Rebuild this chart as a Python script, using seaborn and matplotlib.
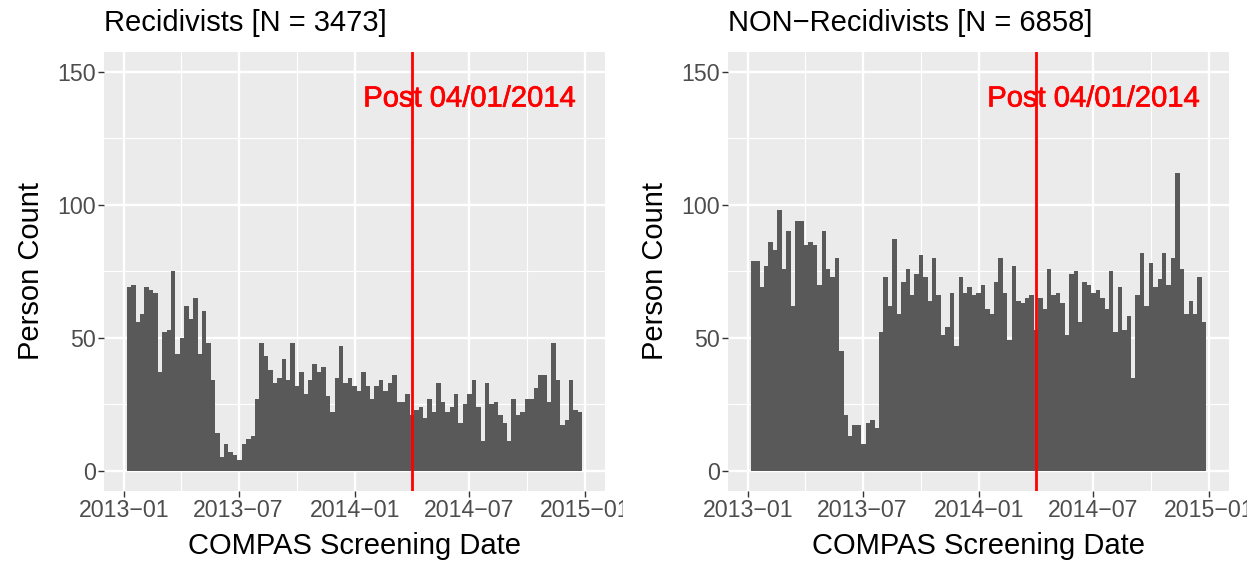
import numpy as np
import pandas as pd
import matplotlib
matplotlib.use("Agg")
import matplotlib.pyplot as plt
import matplotlib.dates as mdates
import matplotlib.patheffects as pe
from matplotlib.ticker import FuncFormatter, FixedLocator
from matplotlib.transforms import Bbox, TransformedBbox
import seaborn as sns

# ---------------- data (weekly bins of COMPAS screening dates) ----------------
bin_start = "2013-01-05"
bin_days = 7
recid_counts = [
    69, 70, 56, 59, 69, 68, 67, 37, 52, 53, 75, 44, 50, 62, 57, 65, 44, 60, 48, 34,
    14, 5, 10, 7, 6, 4, 10, 12, 13, 27, 48, 43, 38, 33, 35,
    42, 34, 48, 32, 37, 29, 34, 40, 37, 39, 28, 22, 35, 47, 33, 35, 32, 30, 37, 32,
    27, 32, 34, 30, 33, 36, 26, 26, 29, 21, 23, 24, 20, 27, 22,
    33, 26, 22, 24, 29, 18, 25, 29, 34, 24, 11, 33, 25, 26, 21, 18, 11, 27, 21, 22,
    27, 27, 31, 36, 36, 26, 48, 34, 17, 19, 34, 23, 22,
]
nonrecid_counts = [
    79, 79, 69, 77, 86, 83, 98, 76, 90, 62, 94, 94, 85, 86, 85, 70, 90, 76, 73, 80,
    45, 21, 13, 17, 17, 10, 18, 19, 16, 52, 73, 62, 87, 59, 71,
    76, 66, 74, 81, 73, 64, 80, 66, 51, 54, 67, 47, 73, 67, 69, 66, 67, 70, 61, 59,
    71, 80, 67, 49, 77, 64, 63, 65, 66, 53, 65, 61, 76, 66, 67,
    63, 51, 74, 75, 56, 71, 70, 67, 68, 65, 61, 75, 52, 69, 53, 58, 35, 66, 82, 62,
    78, 69, 72, 82, 70, 80, 112, 76, 59, 64, 59, 73, 56,
]
panel_titles = ["Recidivists [N = 3473]", "NON\u2212Recidivists [N = 6858]"]
cutoff_date = "2014-04-01"
cutoff_label = "Post 04/01/2014"
label_date = "2014-07-01"
label_y = 140
x_breaks = ["2013-01-01", "2013-07-01", "2014-01-01", "2014-07-01", "2015-01-01"]
y_breaks = [0, 50, 100, 150]
y_minor = [25, 75, 125]

# ---------------- style ----------------
sns.set_style("darkgrid")
plt.rcParams["font.family"] = ["Liberation Sans", "DejaVu Sans"]
plt.rcParams["axes.unicode_minus"] = True

W, H = 1257, 563
fig = plt.figure(figsize=(W / 100, H / 100), dpi=100)

start = mdates.date2num(pd.Timestamp(bin_start))
nb = len(recid_counts)
edges = [float(start + bin_days * k) for k in range(nb + 1)]
centers = [(a + b) / 2 for a, b in zip(edges[:-1], edges[1:])]
span = edges[-1] - edges[0]
xlim = (edges[0] - 0.05 * span, edges[-1] + 0.05 * span)
xb = [mdates.date2num(pd.Timestamp(d)) for d in x_breaks]
xminor = [(a + b) / 2 for a, b in zip(xb[:-1], xb[1:])]

fmt = FuncFormatter(lambda v, p: mdates.num2date(v).strftime("%Y-%m").replace("-", "\u2212"))

boxes = [[104 / W, 0.1286, 501 / W, 0.779], [728 / W, 0.1286, 501 / W, 0.779]]
clip_right = [623, 1247]

for i, counts in enumerate([recid_counts, nonrecid_counts]):
    ax = fig.add_axes(boxes[i])
    ax.set_facecolor("#EBEBEB")
    df = pd.DataFrame({"date": centers, "count": counts})
    sns.histplot(data=df, x="date", weights="count", bins=edges, ax=ax, color="#595959",
                 alpha=1, linewidth=0)
    ax.axvline(mdates.date2num(pd.Timestamp(cutoff_date)), color="#FF0000", lw=2.0, zorder=3)
    ax.text(mdates.date2num(pd.Timestamp(label_date)), label_y, cutoff_label, color="#FF0000",
            fontsize=21, ha="center", va="center", zorder=4,
            path_effects=[pe.withStroke(linewidth=0.5, foreground="#FF0000")])
    ax.set_xlim(*xlim)
    ax.set_ylim(-7.5, 157.5)
    ax.xaxis.set_major_locator(FixedLocator(xb))
    ax.xaxis.set_minor_locator(FixedLocator(xminor))
    ax.xaxis.set_major_formatter(fmt)
    ax.yaxis.set_major_locator(FixedLocator(y_breaks))
    ax.yaxis.set_minor_locator(FixedLocator(y_minor))
    ax.grid(which="major", color="white", lw=1.7)
    ax.grid(which="minor", color="white", lw=0.8)
    ax.set_axisbelow(True)
    for s in ax.spines.values():
        s.set_visible(False)
    ax.tick_params(which="major", length=4, width=1.0, color="#333333",
                   labelcolor="#4D4D4D", labelsize=16.7, pad=2, bottom=True, left=True)
    ax.tick_params(which="minor", length=0)
    ax.set_xlabel("COMPAS Screening Date", fontsize=21, color="black", labelpad=7)
    ax.set_ylabel("Person Count", fontsize=21, color="black", labelpad=9)
    ax.set_title(panel_titles[i], loc="left", fontsize=21, color="black", pad=15)
    clipbb = TransformedBbox(Bbox([[0, 0], [clip_right[i] / W, 1]]), fig.transFigure)
    for t in ax.xaxis.get_major_ticks():
        t.label1.set_clip_box(clipbb)
        t.label1.set_clip_on(True)

fig.savefig("out.png", dpi=100)
